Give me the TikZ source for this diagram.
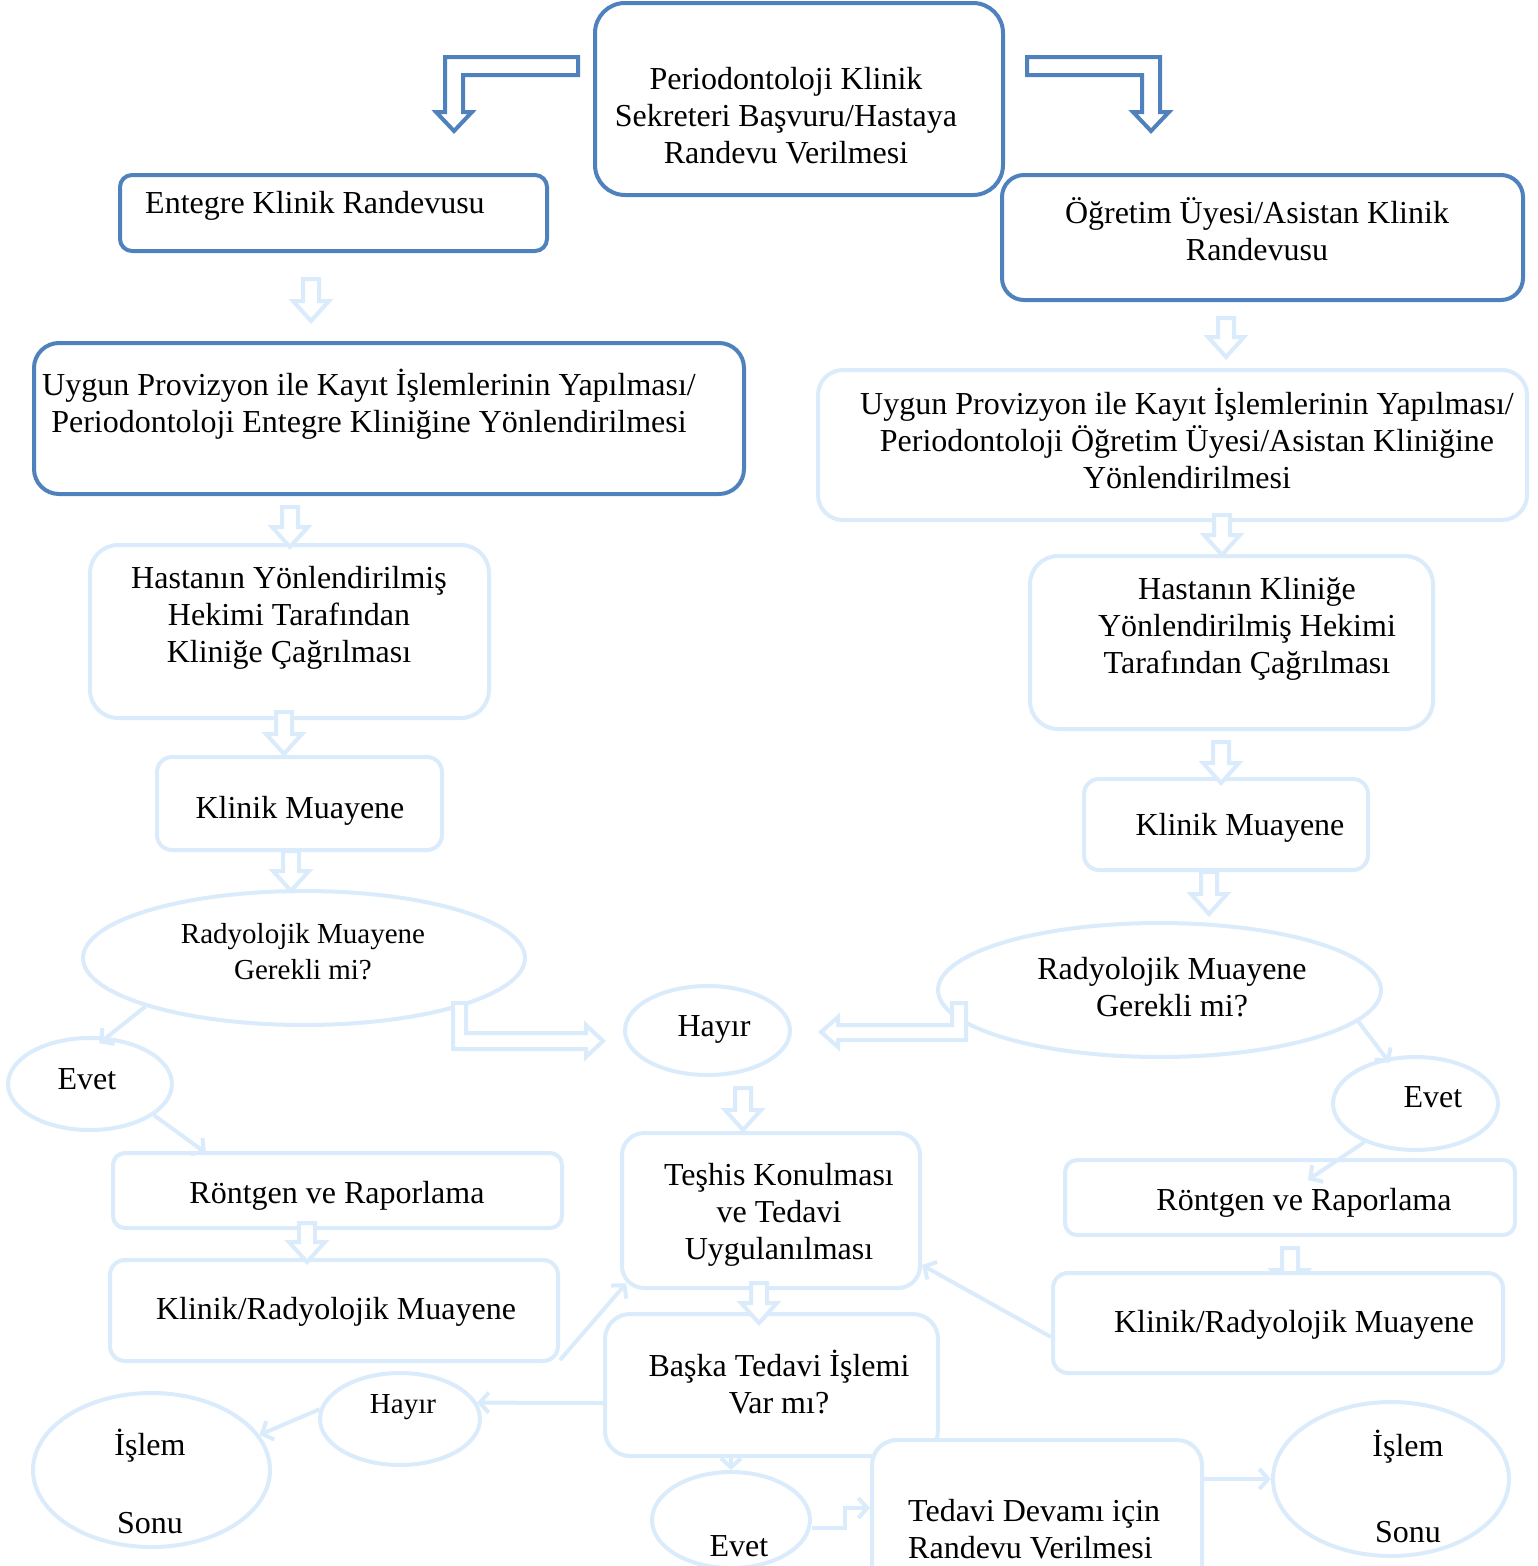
\documentclass[tikz,border=0pt]{standalone}
\usepackage{fontspec}
\setmainfont{Liberation Serif}
\usetikzlibrary{shapes.geometric,calc,arrows.meta}
\definecolor{dblue}{HTML}{4F81BD}
\definecolor{lblue}{HTML}{DAEBFB}
\newcommand\dnarrow[3]{%
  \draw[blk] (#1-8,#2) -- (#1+8,#2) -- (#1+8,#3-20) -- (#1+18,#3-20) -- (#1,#3) -- (#1-18,#3-20) -- (#1-8,#3-20) -- cycle;}
\begin{document}
\begin{tikzpicture}[x=1pt,y=-1pt,
  dbox/.style={draw=dblue,line width=4pt,fill=white,inner sep=0pt},
  lbox/.style={draw=lblue,line width=4pt,fill=white,inner sep=0pt},
  lell/.style={ellipse,draw=lblue,line width=4pt,fill=white,inner sep=0pt},
  txt/.style={align=center,inner sep=0pt,yshift=-3pt,font=\fontsize{32}{37}\selectfont},
  stxt/.style={align=center,inner sep=0pt,yshift=-2pt,font=\fontsize{29}{36}\selectfont},
  blk/.style={draw=lblue,line width=4pt,fill=white,line join=miter},
  dblk/.style={draw=dblue,line width=4pt,fill=white,line join=miter},
  conn/.style={draw=lblue,line width=4pt,-{Straight Barb[length=9pt,width=20pt]}}]
\useasboundingbox (0,0) rectangle (1537,1566);
% arrow hidden behind right Klinik/Radyolojik box
\dnarrow{1290}{1248}{1290}
% dark boxes
\node[dbox,rounded corners=30pt,minimum width=408pt,minimum height=192pt] (top) at (799,99) {};
\node[dbox,rounded corners=12pt,minimum width=427pt,minimum height=76pt] (ent) at (333.5,213) {};
\node[dbox,rounded corners=22pt,minimum width=521pt,minimum height=125pt] (ogr) at (1262.5,237.5) {};
\node[dbox,rounded corners=25pt,minimum width=710pt,minimum height=151pt] (uyl) at (389,418.5) {};
% light boxes
\node[lbox,rounded corners=25pt,minimum width=709pt,minimum height=150pt] (uyr) at (1172.5,445) {};
\node[lbox,rounded corners=28pt,minimum width=399pt,minimum height=173pt] (hal) at (289.5,631.5) {};
\node[lbox,rounded corners=28pt,minimum width=403pt,minimum height=173pt] (har) at (1231.5,642.5) {};
\node[lbox,rounded corners=15pt,minimum width=285pt,minimum height=93pt] (kml) at (299.5,803.5) {};
\node[lbox,rounded corners=15pt,minimum width=284pt,minimum height=91pt] (kmr) at (1226,824.5) {};
\node[lell,minimum width=442pt,minimum height=134pt] (rad1) at (304,958) {};
\node[lell,minimum width=443pt,minimum height=134pt] (rad2) at (1159.5,990) {};
\node[lell,minimum width=165pt,minimum height=89pt] (hay1) at (707.5,1030.5) {};
\node[lell,minimum width=164pt,minimum height=92pt] (ev1) at (90,1084) {};
\node[lell,minimum width=165pt,minimum height=93pt] (ev2) at (1415.5,1103.5) {};
\node[lbox,rounded corners=12pt,minimum width=449pt,minimum height=75pt] (ron1) at (337.5,1190.5) {};
\node[lbox,rounded corners=12pt,minimum width=450pt,minimum height=75pt] (ron2) at (1290,1197.5) {};
\node[lbox,rounded corners=15pt,minimum width=448pt,minimum height=101pt] (kr1) at (334,1310.5) {};
\node[lbox,rounded corners=15pt,minimum width=450pt,minimum height=100pt] (kr2) at (1278,1323) {};
\node[lbox,rounded corners=22pt,minimum width=298pt,minimum height=155pt] (tes) at (771,1210.5) {};
\node[lbox,rounded corners=25pt,minimum width=333pt,minimum height=142pt] (bas) at (771.5,1385) {};
\node[lell,minimum width=160pt,minimum height=92pt] (hay2) at (400,1419) {};
\node[lell,minimum width=237pt,minimum height=154pt] (is1) at (151.5,1470) {};
\node[lell,minimum width=158pt,minimum height=96pt] (ev3) at (731,1520) {};
\node[lbox,rounded corners=25pt,minimum width=330pt,minimum height=160pt] (ted) at (1037,1520) {};
\node[lell,minimum width=236pt,minimum height=154pt] (is2) at (1391,1479) {};
% texts
\node[txt] (ttop) at (786,113) {Periodontoloji Klinik\\Sekreteri Başvuru/Hastaya\\Randevu Verilmesi};
\node[txt,anchor=west] (tent) at (145,203) {Entegre Klinik Randevusu};
\node[txt] (togr) at (1257,226) {Öğretim Üyesi/Asistan Klinik\\Randevusu};
\node[txt] (tuyl) at (369,401) {Uygun Provizyon ile Kayıt İşlemlerinin Yapılması/\\Periodontoloji Entegre Kliniğine Yönlendirilmesi};
\node[txt] (tuyr) at (1187,435) {Uygun Provizyon ile Kayıt İşlemlerinin Yapılması/\\Periodontoloji Öğretim Üyesi/Asistan Kliniğine\\Yönlendirilmesi};
\node[txt] (thal) at (289,615) {Hastanın Yönlendirilmiş\\Hekimi Tarafından\\Kliniğe Çağrılması};
\node[txt] (thar) at (1247,626) {Hastanın Kliniğe\\Yönlendirilmiş Hekimi\\Tarafından Çağrılması};
\node[txt] (tkml) at (300,808) {Klinik Muayene};
\node[txt] (tkmr) at (1240,825) {Klinik Muayene};
\node[stxt] (trad1) at (303,950) {Radyolojik Muayene\\Gerekli mi?};
\node[txt] (trad2) at (1172,984) {Radyolojik Muayene\\Gerekli mi?};
\node[txt] (thay1) at (714,1026) {Hayır};
\node[txt] (tev1) at (87,1076) {Evet};
\node[txt] (tev2) at (1433,1094) {Evet};
\node[txt] (tron1) at (337,1193) {Röntgen ve Raporlama};
\node[txt] (tron2) at (1304,1200) {Röntgen ve Raporlama};
\node[txt] (tkr1) at (336,1309) {Klinik/Radyolojik Muayene};
\node[txt] (tkr2) at (1294,1322) {Klinik/Radyolojik Muayene};
\node[txt] (ttes) at (779,1212) {Teşhis Konulması\\ve Tedavi\\Uygulanılması};
\node[txt] (tbas) at (779,1379) {Başka Tedavi İşlemi\\Var mı?};
\node[stxt] (thay2) at (403,1405) {Hayır};
\node[txt] (tis1) at (150,1478) {İşlem\\[41pt]Sonu};
\node[txt] (tis2) at (1408,1483) {İşlem\\[49pt]Sonu};
\node[txt] (tev3) at (739,1543) {Evet};
\node[txt,align=left,anchor=west] (tted) at (908,1526) {Tedavi Devamı için\\Randevu Verilmesi};
% dark elbow block arrows
\draw[dblk] (578,57) -- (445,57) -- (445,112) -- (436,112) -- (454,131) -- (472,112) -- (463,112) -- (463,75) -- (578,75) -- cycle;
\draw[dblk] (1027,57) -- (1160,57) -- (1160,112) -- (1169,112) -- (1151,131) -- (1133,112) -- (1142,112) -- (1142,75) -- (1027,75) -- cycle;
% light down block arrows
\dnarrow{311}{279}{321}
\dnarrow{1226}{318}{357}
\dnarrow{290}{507}{547}
\dnarrow{1222}{515}{555}
\dnarrow{284}{712}{754}
\dnarrow{1221}{742}{783}
\dnarrow{291}{851}{891}
\dnarrow{1209}{872}{914}
\dnarrow{743}{1088}{1130}
\dnarrow{307}{1223}{1262}
\dnarrow{759}{1283}{1323}
% light elbow block arrows to Hayir
\draw[blk] (453,1003) -- (453,1049) -- (586,1049) -- (586,1057) -- (603,1041) -- (586,1025) -- (586,1033) -- (466,1033) -- (466,1003) -- cycle;
\draw[blk] (966,1003) -- (966,1040) -- (838,1040) -- (838,1047) -- (821,1032) -- (838,1017) -- (838,1025) -- (952,1025) -- (952,1003) -- cycle;
% thin connectors
\draw[conn,shorten >=-10pt] (rad1.197) -- (ev1.70);
\draw[conn] (ev1.-26) -- ($(ron1.north west)+(95,2)$);
\draw[conn,shorten >=-6pt] (rad2.-9) -- (ev2.123);
\draw[conn] (ev2.217) -- ($(ron2.north west)+(245,22)$);
\draw[conn,shorten >=-5pt] ($(kr1.south east)+(0,-3)$) -- ($(tes.south west)+(3,-3)$);
\draw[conn] ($(kr2.west)+(0,14)$) -- ($(tes.south east)+(0,-25)$);
\draw[conn] ($(bas.west)+(0,18)$) -- (hay2.12);
\draw[conn] (hay2.173) -- (is1.18);
\draw[conn] (ev3.north |- bas.south) -- (ev3.north);
\draw[conn] ($(ev3.east)+(0,8)$) -- ++(33,0) |- ($(ted.west)+(0,-12)$);
\draw[conn] (ted.east |- is2.west) -- (is2.west);
\end{tikzpicture}
\end{document}
